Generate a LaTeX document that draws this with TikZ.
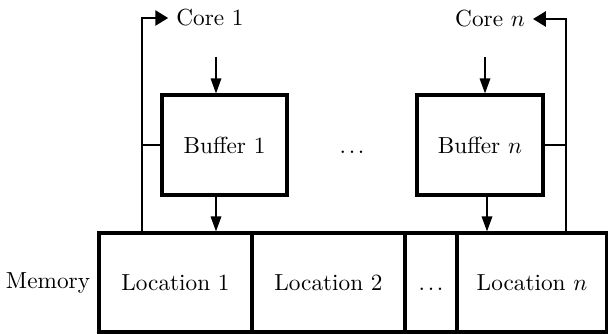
\documentclass[tikz,border=0pt]{standalone}
\usepackage{tikz}
\usetikzlibrary{arrows.meta,positioning}
\usepackage{amsmath}

\newcommand{\gapdots}{.\kern1.1pt.\kern1.1pt.}

\begin{document}
\begin{tikzpicture}[x=0.43pt, y=-0.43pt]
                \tikzstyle{block} = [shape=rectangle, draw, line width=1.3pt, inner sep=0pt];
                \tikzstyle{cell} = [block, minimum height=99*0.43pt];
                \tikzstyle{wire} = [line width=0.8pt];
                \tikzstyle{feed} = [wire, -{Triangle[length=6.5pt,width=4.5pt]}];

                \useasboundingbox (0,0) rectangle (608,334);

                % buffers
                \node[block, minimum width=125*0.43pt, minimum height=100*0.43pt](B1) at (224.5,145) {Buffer 1};
                \node[block, minimum width=126*0.43pt, minimum height=100*0.43pt](Bn) at (480,145) {Buffer $n$};
                \node(Bdots) at (352,145) {\vphantom{Buffer}\gapdots};

                % memory
                \node[cell, minimum width=153*0.43pt](L1) at (175.5,282.5) {Location 1};
                \node[cell, minimum width=153*0.43pt](L2) at (328.5,282.5) {Location 2};
                \node[cell, minimum width=52*0.43pt](Ld) at (431,282.5) {\vphantom{Location}\gapdots};
                \node[cell, minimum width=150*0.43pt](Ln) at (532,282.5) {Location $n$};
                \node[left=3pt of L1.west, inner sep=0pt](M) {Memory};

                % cores
                \node(C1) at (210,18) {Core 1};
                \node(Cn) at (490,19) {Core $n$};

                \coordinate (T1) at (142,233);
                \coordinate (Tn) at (566,233);
                \coordinate (I1) at (216,57);
                \coordinate (In) at (485,57);
                \coordinate (O1) at (216,195);
                \coordinate (On) at (487,195);

                \draw[wire, -{Triangle[length=5.5pt,width=6.5pt]}] (T1) |- (C1.west);
                \draw[wire, -{Triangle[length=5.5pt,width=6.5pt]}] (Tn) |- (Cn.east);

                \draw[wire] (B1.west) -- (B1.west -| T1);
                \draw[wire] (Bn.east) -- (Bn.east -| Tn);

                \draw[feed] (I1) -- (I1 |- B1.north);
                \draw[feed] (In) -- (In |- Bn.north);
                \draw[feed] (O1) -- (O1 |- L1.north);
                \draw[feed] (On) -- (On |- Ln.north);
            \end{tikzpicture}
\end{document}
